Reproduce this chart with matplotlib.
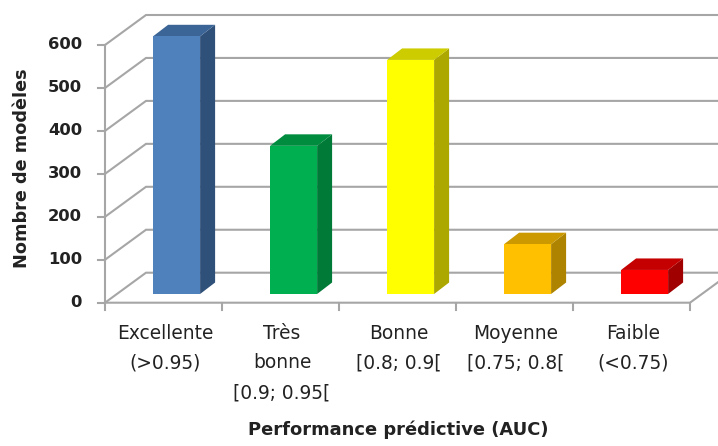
import matplotlib
matplotlib.use("Agg")
import matplotlib.pyplot as plt
from matplotlib.patches import Polygon

categories = ["Excellente\n(>0.95)", "Très\nbonne\n[0.9; 0.95[", "Bonne\n[0.8; 0.9[",
              "Moyenne\n[0.75; 0.8[", "Faible\n(<0.75)"]
values = [600, 345, 545, 116, 56]
front_colors = ["#4F81BD", "#00B050", "#FFFF00", "#FFC000", "#FF0000"]
side_colors = ["#2F5078", "#007A37", "#ADA800", "#AD8300", "#A00000"]
top_colors = ["#3B6497", "#008C3F", "#CCCC00", "#CC9A00", "#C40000"]
yticks = [0, 100, 200, 300, 400, 500, 600]

W, H = 718, 446
fig = plt.figure(figsize=(W / 100, H / 100), dpi=100)
ax = fig.add_axes([0, 0, 1, 1])
ax.axis("off")

# scales: pixel geometry of the front plane
px_per_cat = 117.0
px_per_val = (302.7 - 45.0) / 600
x0_px, y0_px = 105.0, 302.7
ax.set_xlim(-x0_px / px_per_cat, (W - x0_px) / px_per_cat)
ax.set_ylim((y0_px - H) / px_per_val, y0_px / px_per_val)
dx = lambda p: p / px_per_cat
dy = lambda p: p / px_per_val

grid = "#A6A6A6"
lw = 1.5
wall_x, wall_y = dx(41), dy(30)
n = len(categories)

for t in yticks:
    ax.plot([0, wall_x, n + wall_x], [t, t + wall_y, t + wall_y], color=grid, lw=lw,
            solid_joinstyle="miter", zorder=1)
    ax.plot([-dx(7), 0], [t, t], color=grid, lw=lw, zorder=1)
    ax.text(-dx(23), t, str(t), ha="right", va="center", fontsize=11.8, fontweight="bold",
            color="#222222", family="DejaVu Sans")

ax.plot([0, 0], [0, yticks[-1]], color=grid, lw=lw, zorder=1)
ax.plot([0, n, n + wall_x], [0, 0, wall_y], color=grid, lw=lw, zorder=1)
for i in range(n + 1):
    ax.plot([i, i], [0, -dy(7)], color=grid, lw=lw, zorder=1)

bar_w = dx(47)
off_y = dy(8.7)
dep_x, dep_y = dx(15), dy(11.5)
for i, v in enumerate(values):
    c = i + (176.6 - x0_px) / px_per_cat
    l, r = c - bar_w / 2, c + bar_w / 2
    b, t = off_y, off_y + v
    ax.add_patch(Polygon([(r, b), (r + dep_x, b + dep_y), (r + dep_x, t + dep_y), (r, t)],
                         fc=side_colors[i], ec="none", zorder=2))
    ax.add_patch(Polygon([(l, t), (l + dep_x, t + dep_y), (r + dep_x, t + dep_y), (r, t)],
                         fc=top_colors[i], ec="none", zorder=2))
    ax.add_patch(Polygon([(l, b), (r, b), (r, t), (l, t)], fc=front_colors[i], ec="none", zorder=3))
    ax.text(i + 0.5 + dx(1.5), -dy(21), categories[i], ha="center", va="top", fontsize=13.4,
            linespacing=1.72, color="#222222", family="DejaVu Sans")

ax.text(dx(22 - x0_px), dy(y0_px - 168), "Nombre de modèles", rotation=90, ha="center", va="center",
        fontsize=12.7, fontweight="bold", color="#222222", family="DejaVu Sans")
ax.text(dx(398 - x0_px), dy(y0_px - 430), "Performance prédictive (AUC)", ha="center", va="center",
        fontsize=12.9, fontweight="bold", color="#222222", family="DejaVu Sans")

fig.savefig("out.png", dpi=100)
